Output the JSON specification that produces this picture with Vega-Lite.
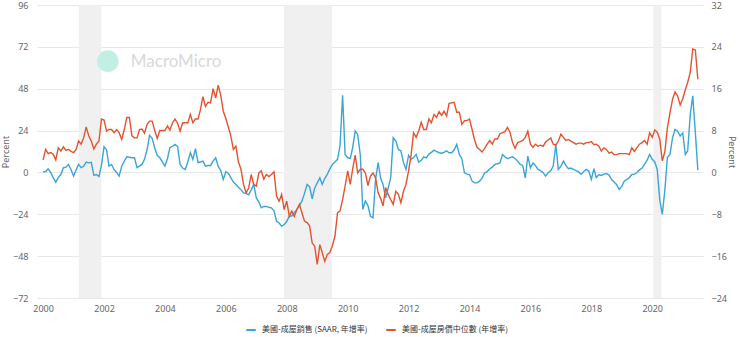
{
  "$schema": "https://vega.github.io/schema/vega-lite/v6.json",
  "width": 666,
  "height": 293,
  "autosize": {"type": "none"},
  "padding": {"left": 37, "top": 5, "right": 37, "bottom": 39},
  "background": "white",
  "config": {
    "view": {"stroke": null},
    "font": "Noto Sans CJK TC",
    "axis": {"labelFont": "Noto Sans", "labelColor": "#666666", "labelFontSize": 9, "titleFont": "Noto Sans", "titleColor": "#666666", "titleFontSize": 9, "titleFontWeight": "normal", "domain": false, "ticks": false}
  },
  "datasets": {
    "rec": [
      {"start": "2001-03-05", "end": "2001-11-30"},
      {"start": "2007-11-28", "end": "2009-06-25"},
      {"start": "2020-01-15", "end": "2020-04-20"}
    ],
    "mark": [
      {"d": "2002-02-15", "v": 63.8, "t": "MacroMicro"}
    ],
    "series": [
      {"d":"2000-01-01","s":0.2,"p":2.4},{"d":"2000-02-01","s":0.5,"p":4.4},{"d":"2000-03-01","s":2.1,"p":3.6},{"d":"2000-04-01","s":0.0,"p":3.8},{"d":"2000-05-01","s":-3.0,"p":3.5},{"d":"2000-06-01","s":-5.6,"p":2.4},{"d":"2000-07-01","s":-3.0,"p":4.7},{"d":"2000-08-01","s":-1.2,"p":4.1},{"d":"2000-09-01","s":2.7,"p":4.9},{"d":"2000-10-01","s":3.0,"p":4.2},{"d":"2000-11-01","s":4.6,"p":4.4},{"d":"2000-12-01","s":1.5,"p":4.0},
      {"d":"2001-01-01","s":-2.1,"p":3.8},{"d":"2001-02-01","s":1.5,"p":4.4},{"d":"2001-03-01","s":4.6,"p":6.0},{"d":"2001-04-01","s":2.7,"p":5.4},{"d":"2001-05-01","s":3.5,"p":6.6},{"d":"2001-06-01","s":5.9,"p":8.7},{"d":"2001-07-01","s":5.5,"p":7.0},{"d":"2001-08-01","s":5.8,"p":6.0},{"d":"2001-09-01","s":-1.7,"p":4.5},{"d":"2001-10-01","s":-1.2,"p":5.4},{"d":"2001-11-01","s":-2.3,"p":6.0},{"d":"2001-12-01","s":4.0,"p":10.2},
      {"d":"2002-01-01","s":14.7,"p":10.0},{"d":"2002-02-01","s":12.9,"p":7.9},{"d":"2002-03-01","s":3.6,"p":8.2},{"d":"2002-04-01","s":4.6,"p":8.2},{"d":"2002-05-01","s":1.7,"p":7.6},{"d":"2002-06-01","s":0.0,"p":8.2},{"d":"2002-07-01","s":-2.1,"p":7.6},{"d":"2002-08-01","s":3.6,"p":6.3},{"d":"2002-09-01","s":6.5,"p":8.2},{"d":"2002-10-01","s":9.0,"p":10.5},{"d":"2002-11-01","s":8.7,"p":10.5},{"d":"2002-12-01","s":8.4,"p":7.0},
      {"d":"2003-01-01","s":8.4,"p":6.6},{"d":"2003-02-01","s":2.7,"p":6.6},{"d":"2003-03-01","s":3.6,"p":8.2},{"d":"2003-04-01","s":4.6,"p":8.3},{"d":"2003-05-01","s":7.5,"p":7.5},{"d":"2003-06-01","s":13.0,"p":9.2},{"d":"2003-07-01","s":21.3,"p":9.8},{"d":"2003-08-01","s":19.5,"p":9.8},{"d":"2003-09-01","s":14.0,"p":8.0},{"d":"2003-10-01","s":9.8,"p":6.5},{"d":"2003-11-01","s":8.4,"p":8.0},{"d":"2003-12-01","s":6.0,"p":8.0},
      {"d":"2004-01-01","s":3.6,"p":8.0},{"d":"2004-02-01","s":8.0,"p":8.9},{"d":"2004-03-01","s":14.2,"p":8.1},{"d":"2004-04-01","s":15.0,"p":9.5},{"d":"2004-05-01","s":16.1,"p":10.2},{"d":"2004-06-01","s":15.0,"p":9.4},{"d":"2004-07-01","s":4.6,"p":7.9},{"d":"2004-08-01","s":2.5,"p":9.5},{"d":"2004-09-01","s":1.7,"p":9.5},{"d":"2004-10-01","s":6.0,"p":9.5},{"d":"2004-11-01","s":11.3,"p":11.1},{"d":"2004-12-01","s":7.5,"p":9.5},
      {"d":"2005-01-01","s":13.6,"p":10.2},{"d":"2005-02-01","s":5.6,"p":10.2},{"d":"2005-03-01","s":6.0,"p":11.9},{"d":"2005-04-01","s":6.5,"p":14.5},{"d":"2005-05-01","s":3.6,"p":12.6},{"d":"2005-06-01","s":4.0,"p":13.4},{"d":"2005-07-01","s":4.0,"p":13.3},{"d":"2005-08-01","s":6.5,"p":16.0},{"d":"2005-09-01","s":8.4,"p":14.2},{"d":"2005-10-01","s":3.6,"p":16.7},{"d":"2005-11-01","s":1.0,"p":14.7},{"d":"2005-12-01","s":-4.0,"p":11.7},
      {"d":"2006-01-01","s":0.5,"p":10.3},{"d":"2006-02-01","s":-0.6,"p":8.6},{"d":"2006-03-01","s":-3.0,"p":7.0},{"d":"2006-04-01","s":-5.5,"p":4.4},{"d":"2006-05-01","s":-6.9,"p":5.0},{"d":"2006-06-01","s":-8.5,"p":2.0},{"d":"2006-07-01","s":-10.0,"p":0.6},{"d":"2006-08-01","s":-11.7,"p":-2.3},{"d":"2006-09-01","s":-12.0,"p":-3.9},{"d":"2006-10-01","s":-12.8,"p":-3.0},{"d":"2006-11-01","s":-10.0,"p":-0.4},{"d":"2006-12-01","s":-6.9,"p":-2.3},
      {"d":"2007-01-01","s":-14.6,"p":-2.6},{"d":"2007-02-01","s":-17.0,"p":-0.1},{"d":"2007-03-01","s":-20.3,"p":0.3},{"d":"2007-04-01","s":-19.5,"p":-1.3},{"d":"2007-05-01","s":-19.5,"p":-0.4},{"d":"2007-06-01","s":-20.0,"p":-0.8},{"d":"2007-07-01","s":-20.3,"p":-0.4},{"d":"2007-08-01","s":-22.0,"p":0.1},{"d":"2007-09-01","s":-28.0,"p":-4.5},{"d":"2007-10-01","s":-29.0,"p":-5.5},{"d":"2007-11-01","s":-30.8,"p":-4.2},{"d":"2007-12-01","s":-30.0,"p":-7.1},
      {"d":"2008-01-01","s":-28.0,"p":-5.5},{"d":"2008-02-01","s":-25.1,"p":-8.4},{"d":"2008-03-01","s":-25.0,"p":-7.4},{"d":"2008-04-01","s":-23.0,"p":-8.4},{"d":"2008-05-01","s":-21.3,"p":-7.1},{"d":"2008-06-01","s":-19.0,"p":-6.1},{"d":"2008-07-01","s":-16.5,"p":-7.7},{"d":"2008-08-01","s":-12.0,"p":-9.3},{"d":"2008-09-01","s":-6.9,"p":-9.6},{"d":"2008-10-01","s":-8.2,"p":-10.2},{"d":"2008-11-01","s":-15.1,"p":-13.5},{"d":"2008-12-01","s":-9.0,"p":-14.1},
      {"d":"2009-01-01","s":-6.0,"p":-17.6},{"d":"2009-02-01","s":-3.1,"p":-13.8},{"d":"2009-03-01","s":-6.9,"p":-15.3},{"d":"2009-04-01","s":-3.5,"p":-17.0},{"d":"2009-05-01","s":-1.1,"p":-15.7},{"d":"2009-06-01","s":2.0,"p":-15.3},{"d":"2009-07-01","s":4.6,"p":-14.0},{"d":"2009-08-01","s":6.0,"p":-12.2},{"d":"2009-09-01","s":7.5,"p":-7.7},{"d":"2009-10-01","s":15.3,"p":-7.4},{"d":"2009-11-01","s":44.3,"p":-5.2},{"d":"2009-12-01","s":10.3,"p":-2.6},
      {"d":"2010-01-01","s":8.4,"p":0.3},{"d":"2010-02-01","s":8.0,"p":-2.3},{"d":"2010-03-01","s":14.0,"p":0.6},{"d":"2010-04-01","s":23.7,"p":3.3},{"d":"2010-05-01","s":21.8,"p":-0.1},{"d":"2010-06-01","s":10.0,"p":0.6},{"d":"2010-07-01","s":-21.3,"p":0.6},{"d":"2010-08-01","s":-16.4,"p":-0.1},{"d":"2010-09-01","s":-19.0,"p":-2.5},{"d":"2010-10-01","s":-25.1,"p":-0.7},{"d":"2010-11-01","s":-26.0,"p":-0.1},{"d":"2010-12-01","s":-4.0,"p":-1.0},
      {"d":"2011-01-01","s":5.6,"p":-3.9},{"d":"2011-02-01","s":-3.5,"p":-5.0},{"d":"2011-03-01","s":-6.9,"p":-6.4},{"d":"2011-04-01","s":-14.6,"p":-2.9},{"d":"2011-05-01","s":-9.0,"p":-4.2},{"d":"2011-06-01","s":-3.0,"p":-5.2},{"d":"2011-07-01","s":19.9,"p":-6.1},{"d":"2011-08-01","s":18.0,"p":-3.6},{"d":"2011-09-01","s":13.2,"p":-4.2},{"d":"2011-10-01","s":12.4,"p":-5.8},{"d":"2011-11-01","s":5.6,"p":-3.6},{"d":"2011-12-01","s":1.7,"p":-2.3},
      {"d":"2012-01-01","s":9.8,"p":0.3},{"d":"2012-02-01","s":7.5,"p":3.4},{"d":"2012-03-01","s":8.5,"p":7.6},{"d":"2012-04-01","s":10.3,"p":6.7},{"d":"2012-05-01","s":5.9,"p":7.9},{"d":"2012-06-01","s":7.0,"p":9.6},{"d":"2012-07-01","s":9.0,"p":8.2},{"d":"2012-08-01","s":8.4,"p":8.2},{"d":"2012-09-01","s":10.5,"p":10.2},{"d":"2012-10-01","s":11.5,"p":9.5},{"d":"2012-11-01","s":12.8,"p":11.1},{"d":"2012-12-01","s":12.0,"p":10.5},
      {"d":"2013-01-01","s":11.3,"p":11.6},{"d":"2013-02-01","s":11.0,"p":10.9},{"d":"2013-03-01","s":11.5,"p":11.7},{"d":"2013-04-01","s":12.4,"p":10.8},{"d":"2013-05-01","s":11.3,"p":13.2},{"d":"2013-06-01","s":11.3,"p":13.3},{"d":"2013-07-01","s":13.0,"p":13.4},{"d":"2013-08-01","s":16.1,"p":11.5},{"d":"2013-09-01","s":10.3,"p":11.5},{"d":"2013-10-01","s":7.9,"p":9.2},{"d":"2013-11-01","s":-0.2,"p":9.9},{"d":"2013-12-01","s":-1.0,"p":9.9},
      {"d":"2014-01-01","s":-1.2,"p":10.2},{"d":"2014-02-01","s":-5.0,"p":8.2},{"d":"2014-03-01","s":-6.0,"p":6.3},{"d":"2014-04-01","s":-6.0,"p":4.8},{"d":"2014-05-01","s":-5.0,"p":4.4},{"d":"2014-06-01","s":-3.3,"p":3.9},{"d":"2014-07-01","s":-0.2,"p":4.6},{"d":"2014-08-01","s":0.5,"p":5.4},{"d":"2014-09-01","s":2.1,"p":6.1},{"d":"2014-10-01","s":3.0,"p":5.4},{"d":"2014-11-01","s":4.6,"p":6.4},{"d":"2014-12-01","s":5.0,"p":6.4},
      {"d":"2015-01-01","s":5.5,"p":7.4},{"d":"2015-02-01","s":10.3,"p":7.6},{"d":"2015-03-01","s":9.0,"p":7.8},{"d":"2015-04-01","s":7.9,"p":8.6},{"d":"2015-05-01","s":8.5,"p":7.7},{"d":"2015-06-01","s":9.0,"p":5.7},{"d":"2015-07-01","s":8.0,"p":4.6},{"d":"2015-08-01","s":6.5,"p":5.7},{"d":"2015-09-01","s":4.6,"p":5.9},{"d":"2015-10-01","s":4.0,"p":6.1},{"d":"2015-11-01","s":-3.1,"p":6.7},{"d":"2015-12-01","s":9.4,"p":7.9},
      {"d":"2016-01-01","s":2.7,"p":5.4},{"d":"2016-02-01","s":5.5,"p":4.8},{"d":"2016-03-01","s":4.0,"p":5.4},{"d":"2016-04-01","s":1.7,"p":5.0},{"d":"2016-05-01","s":1.0,"p":5.2},{"d":"2016-06-01","s":0.0,"p":5.0},{"d":"2016-07-01","s":-2.1,"p":5.8},{"d":"2016-08-01","s":-0.2,"p":6.2},{"d":"2016-09-01","s":1.0,"p":6.6},{"d":"2016-10-01","s":3.6,"p":5.4},{"d":"2016-11-01","s":16.1,"p":5.2},{"d":"2016-12-01","s":1.7,"p":6.0},
      {"d":"2017-01-01","s":3.6,"p":7.3},{"d":"2017-02-01","s":6.5,"p":6.7},{"d":"2017-03-01","s":4.0,"p":6.1},{"d":"2017-04-01","s":2.1,"p":6.3},{"d":"2017-05-01","s":2.5,"p":6.0},{"d":"2017-06-01","s":1.7,"p":5.7},{"d":"2017-07-01","s":1.0,"p":5.4},{"d":"2017-08-01","s":0.3,"p":5.6},{"d":"2017-09-01","s":-1.1,"p":5.6},{"d":"2017-10-01","s":0.5,"p":5.4},{"d":"2017-11-01","s":1.7,"p":5.7},{"d":"2017-12-01","s":0.8,"p":5.7},
      {"d":"2018-01-01","s":-4.0,"p":5.9},{"d":"2018-02-01","s":2.1,"p":5.3},{"d":"2018-03-01","s":-3.0,"p":5.4},{"d":"2018-04-01","s":-1.4,"p":5.0},{"d":"2018-05-01","s":-1.7,"p":4.1},{"d":"2018-06-01","s":-1.0,"p":4.7},{"d":"2018-07-01","s":-0.6,"p":4.4},{"d":"2018-08-01","s":-1.5,"p":3.7},{"d":"2018-09-01","s":-4.1,"p":3.9},{"d":"2018-10-01","s":-5.5,"p":3.4},{"d":"2018-11-01","s":-7.0,"p":3.4},{"d":"2018-12-01","s":-9.8,"p":3.6},
      {"d":"2019-01-01","s":-8.0,"p":3.6},{"d":"2019-02-01","s":-4.9,"p":3.6},{"d":"2019-03-01","s":-4.1,"p":3.6},{"d":"2019-04-01","s":-3.0,"p":3.4},{"d":"2019-05-01","s":-1.2,"p":4.7},{"d":"2019-06-01","s":-1.0,"p":4.0},{"d":"2019-07-01","s":-0.2,"p":4.7},{"d":"2019-08-01","s":1.5,"p":5.4},{"d":"2019-09-01","s":2.5,"p":5.7},{"d":"2019-10-01","s":4.6,"p":6.1},{"d":"2019-11-01","s":7.0,"p":5.4},{"d":"2019-12-01","s":10.3,"p":7.6},
      {"d":"2020-01-01","s":7.5,"p":6.7},{"d":"2020-02-01","s":6.0,"p":8.1},{"d":"2020-03-01","s":1.7,"p":7.7},{"d":"2020-04-01","s":-16.0,"p":6.3},{"d":"2020-05-01","s":-24.1,"p":2.2},{"d":"2020-06-01","s":-10.0,"p":4.0},{"d":"2020-07-01","s":8.7,"p":8.5},{"d":"2020-08-01","s":10.3,"p":11.4},{"d":"2020-09-01","s":20.0,"p":14.0},{"d":"2020-10-01","s":24.7,"p":15.4},{"d":"2020-11-01","s":23.6,"p":14.6},{"d":"2020-12-01","s":20.9,"p":12.9},
      {"d":"2021-01-01","s":22.7,"p":14.1},{"d":"2021-02-01","s":10.3,"p":15.8},{"d":"2021-03-01","s":12.3,"p":17.2},{"d":"2021-04-01","s":33.0,"p":19.1},{"d":"2021-05-01","s":43.9,"p":23.6},{"d":"2021-06-01","s":23.0,"p":23.4},{"d":"2021-07-01","s":1.3,"p":17.8}
    ]
  },
  "layer": [
    {
      "data": {"name": "rec"},
      "mark": {"type": "rect", "color": "#f0f0f0"},
      "encoding": {
        "x": {"field": "start", "type": "temporal", "scale": {"domain": ["1999-10-20", "2021-09-01"]},
              "axis": {"format": "%Y", "tickCount": {"interval": "year", "step": 2}, "title": null, "grid": false, "labelPadding": 6, "labelFontSize": 9}},
        "x2": {"field": "end"}
      }
    },
    {
      "layer": [
        {
          "data": {"name": "mark"},
          "mark": {"type": "point", "filled": true, "size": 470, "color": "#c2efe3", "opacity": 1},
          "encoding": {
            "x": {"field": "d", "type": "temporal"},
            "y": {"field": "v", "type": "quantitative"}
          }
        },
        {
          "data": {"name": "mark"},
          "mark": {"type": "text", "align": "left", "baseline": "middle", "dx": 23, "dy": 1, "fontSize": 17, "font": "Lato", "color": "#d9d9d9"},
          "encoding": {
            "x": {"field": "d", "type": "temporal"},
            "y": {"field": "v", "type": "quantitative"},
            "text": {"field": "t"}
          }
        },
        {
          "data": {"name": "series"},
          "mark": {"type": "line", "strokeWidth": 1.4, "interpolate": "linear"},
          "encoding": {
            "x": {"field": "d", "type": "temporal"},
            "y": {"field": "s", "type": "quantitative",
                  "scale": {"domain": [-72, 96], "nice": false, "zero": false},
                  "axis": {"orient": "left", "values": [-72, -48, -24, 0, 24, 48, 72, 96], "title": "Percent", "titlePadding": 2, "labelPadding": 9, "grid": true, "gridColor": "#e8e8e8"}},
            "color": {"datum": "美國-成屋銷售 (SAAR, 年增率)", "type": "nominal",
                      "scale": {"domain": ["美國-成屋銷售 (SAAR, 年增率)", "美國-成屋房價中位數 (年增率)"], "range": ["#3aa5d6", "#e4532f"]},
                      "legend": {"title": null, "orient": "none", "direction": "horizontal", "legendX": 208, "legendY": 319,
                                 "symbolType": "stroke", "symbolStrokeWidth": 2, "symbolSize": 90, "labelFontSize": 8, "labelColor": "#333333", "labelFont": "Noto Sans CJK TC", "columnPadding": 14, "labelOffset": 5}}
          }
        }
      ]
    },
    {
      "data": {"name": "series"},
      "mark": {"type": "line", "strokeWidth": 1.4},
      "encoding": {
        "x": {"field": "d", "type": "temporal"},
        "y": {"field": "p", "type": "quantitative",
              "scale": {"domain": [-24, 32], "nice": false, "zero": false},
              "axis": {"orient": "right", "values": [-24, -16, -8, 0, 8, 16, 24, 32], "title": "Percent", "titlePadding": 0, "labelPadding": 8, "grid": false}},
        "color": {"datum": "美國-成屋房價中位數 (年增率)", "type": "nominal"}
      }
    }
  ],
  "resolve": {"scale": {"y": "independent"}}
}
